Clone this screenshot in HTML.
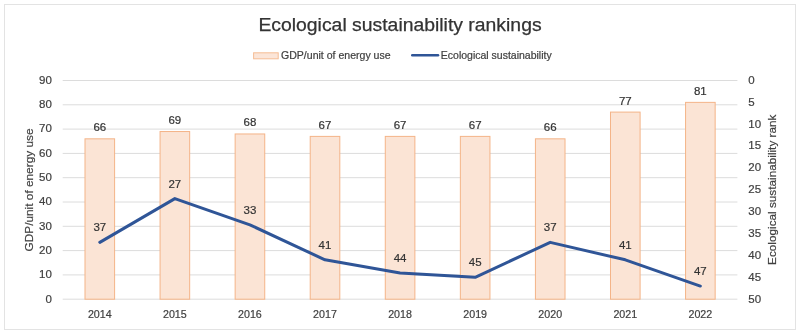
<!DOCTYPE html>
<html><head><meta charset="utf-8"><style>
html,body{margin:0;padding:0;background:#fff;width:800px;height:333px;overflow:hidden}
svg{display:block;will-change:transform}
text{font-family:"Liberation Sans", sans-serif;}
.ti{stroke:currentColor;stroke-width:0.25px}
.dl,.ax,.yr,.lt,.rt,.lg{stroke:currentColor;stroke-width:0.2px}
.dl{font-size:11.5px;color:#333;fill:currentColor}
.ax{font-size:11.5px;color:#404040;fill:currentColor}
.yr{font-size:11.0px;color:#404040;fill:currentColor}
.lt{font-size:11.8px;color:#404040;fill:currentColor}
.rt{font-size:11.8px;color:#404040;fill:currentColor}
.lg{font-size:10.2px;color:#404040;fill:currentColor}
.ti{font-size:18.3px;color:#333;fill:currentColor}
</style></head><body>
<svg width="800" height="333" viewBox="0 0 800 333">
<rect x="4.5" y="4.5" width="791" height="325" fill="#fff" stroke="#e3e3e3" stroke-width="1"/>
<line x1="62.7" y1="299.20" x2="737.4" y2="299.20" stroke="#dcdcdc" stroke-width="1"/>
<line x1="62.7" y1="274.90" x2="737.4" y2="274.90" stroke="#dcdcdc" stroke-width="1"/>
<line x1="62.7" y1="250.60" x2="737.4" y2="250.60" stroke="#dcdcdc" stroke-width="1"/>
<line x1="62.7" y1="226.30" x2="737.4" y2="226.30" stroke="#dcdcdc" stroke-width="1"/>
<line x1="62.7" y1="202.00" x2="737.4" y2="202.00" stroke="#dcdcdc" stroke-width="1"/>
<line x1="62.7" y1="177.70" x2="737.4" y2="177.70" stroke="#dcdcdc" stroke-width="1"/>
<line x1="62.7" y1="153.40" x2="737.4" y2="153.40" stroke="#dcdcdc" stroke-width="1"/>
<line x1="62.7" y1="129.10" x2="737.4" y2="129.10" stroke="#dcdcdc" stroke-width="1"/>
<line x1="62.7" y1="104.80" x2="737.4" y2="104.80" stroke="#dcdcdc" stroke-width="1"/>
<line x1="62.7" y1="80.50" x2="737.4" y2="80.50" stroke="#dcdcdc" stroke-width="1"/>
<rect x="85.00" y="138.82" width="29.6" height="160.38" fill="#fbe4d5" stroke="#f4b488" stroke-width="1"/>
<rect x="160.07" y="131.53" width="29.6" height="167.67" fill="#fbe4d5" stroke="#f4b488" stroke-width="1"/>
<rect x="235.14" y="133.96" width="29.6" height="165.24" fill="#fbe4d5" stroke="#f4b488" stroke-width="1"/>
<rect x="310.21" y="136.39" width="29.6" height="162.81" fill="#fbe4d5" stroke="#f4b488" stroke-width="1"/>
<rect x="385.28" y="136.39" width="29.6" height="162.81" fill="#fbe4d5" stroke="#f4b488" stroke-width="1"/>
<rect x="460.35" y="136.39" width="29.6" height="162.81" fill="#fbe4d5" stroke="#f4b488" stroke-width="1"/>
<rect x="535.42" y="138.82" width="29.6" height="160.38" fill="#fbe4d5" stroke="#f4b488" stroke-width="1"/>
<rect x="610.49" y="112.09" width="29.6" height="187.11" fill="#fbe4d5" stroke="#f4b488" stroke-width="1"/>
<rect x="685.56" y="102.37" width="29.6" height="196.83" fill="#fbe4d5" stroke="#f4b488" stroke-width="1"/>
<polyline points="99.80,242.34 174.87,198.60 249.94,224.84 325.01,259.83 400.08,272.96 475.15,277.33 550.22,242.34 625.29,259.83 700.36,286.08" fill="none" stroke="#2f5597" stroke-width="3" stroke-linejoin="round" stroke-linecap="round"/>
<text x="99.80" y="131.32" text-anchor="middle" class="dl">66</text>
<text x="174.87" y="124.03" text-anchor="middle" class="dl">69</text>
<text x="249.94" y="126.46" text-anchor="middle" class="dl">68</text>
<text x="325.01" y="128.89" text-anchor="middle" class="dl">67</text>
<text x="400.08" y="128.89" text-anchor="middle" class="dl">67</text>
<text x="475.15" y="128.89" text-anchor="middle" class="dl">67</text>
<text x="550.22" y="131.32" text-anchor="middle" class="dl">66</text>
<text x="625.29" y="104.59" text-anchor="middle" class="dl">77</text>
<text x="700.36" y="94.87" text-anchor="middle" class="dl">81</text>
<text x="99.80" y="231.34" text-anchor="middle" class="dl">37</text>
<text x="174.87" y="187.60" text-anchor="middle" class="dl">27</text>
<text x="249.94" y="213.84" text-anchor="middle" class="dl">33</text>
<text x="325.01" y="248.83" text-anchor="middle" class="dl">41</text>
<text x="400.08" y="261.96" text-anchor="middle" class="dl">44</text>
<text x="475.15" y="266.33" text-anchor="middle" class="dl">45</text>
<text x="550.22" y="231.34" text-anchor="middle" class="dl">37</text>
<text x="625.29" y="248.83" text-anchor="middle" class="dl">41</text>
<text x="700.36" y="275.08" text-anchor="middle" class="dl">47</text>
<text x="51.8" y="302.50" text-anchor="end" class="ax">0</text>
<text x="51.8" y="278.20" text-anchor="end" class="ax">10</text>
<text x="51.8" y="253.90" text-anchor="end" class="ax">20</text>
<text x="51.8" y="229.60" text-anchor="end" class="ax">30</text>
<text x="51.8" y="205.30" text-anchor="end" class="ax">40</text>
<text x="51.8" y="181.00" text-anchor="end" class="ax">50</text>
<text x="51.8" y="156.70" text-anchor="end" class="ax">60</text>
<text x="51.8" y="132.40" text-anchor="end" class="ax">70</text>
<text x="51.8" y="108.10" text-anchor="end" class="ax">80</text>
<text x="51.8" y="83.80" text-anchor="end" class="ax">90</text>
<text x="748.3" y="83.80" class="ax">0</text>
<text x="748.3" y="105.67" class="ax">5</text>
<text x="748.3" y="127.54" class="ax">10</text>
<text x="748.3" y="149.41" class="ax">15</text>
<text x="748.3" y="171.28" class="ax">20</text>
<text x="748.3" y="193.15" class="ax">25</text>
<text x="748.3" y="215.02" class="ax">30</text>
<text x="748.3" y="236.89" class="ax">35</text>
<text x="748.3" y="258.76" class="ax">40</text>
<text x="748.3" y="280.63" class="ax">45</text>
<text x="748.3" y="302.50" class="ax">50</text>
<text x="99.80" y="317.9" text-anchor="middle" class="yr" textLength="23.8" lengthAdjust="spacingAndGlyphs">2014</text>
<text x="174.87" y="317.9" text-anchor="middle" class="yr" textLength="23.8" lengthAdjust="spacingAndGlyphs">2015</text>
<text x="249.94" y="317.9" text-anchor="middle" class="yr" textLength="23.8" lengthAdjust="spacingAndGlyphs">2016</text>
<text x="325.01" y="317.9" text-anchor="middle" class="yr" textLength="23.8" lengthAdjust="spacingAndGlyphs">2017</text>
<text x="400.08" y="317.9" text-anchor="middle" class="yr" textLength="23.8" lengthAdjust="spacingAndGlyphs">2018</text>
<text x="475.15" y="317.9" text-anchor="middle" class="yr" textLength="23.8" lengthAdjust="spacingAndGlyphs">2019</text>
<text x="550.22" y="317.9" text-anchor="middle" class="yr" textLength="23.8" lengthAdjust="spacingAndGlyphs">2020</text>
<text x="625.29" y="317.9" text-anchor="middle" class="yr" textLength="23.8" lengthAdjust="spacingAndGlyphs">2021</text>
<text x="700.36" y="317.9" text-anchor="middle" class="yr" textLength="23.8" lengthAdjust="spacingAndGlyphs">2022</text>
<text transform="translate(33.0,190.0) rotate(-90)" text-anchor="middle" class="lt" textLength="123.0" lengthAdjust="spacingAndGlyphs">GDP/unit of energy use</text>
<text transform="translate(776.4,189.75) rotate(-90)" text-anchor="middle" class="rt" textLength="150.3" lengthAdjust="spacingAndGlyphs">Ecological sustainability rank</text>
<rect x="253.6" y="52.8" width="24.6" height="6" fill="#fbe5d8" stroke="#f5bd95" stroke-width="1"/>
<text x="281" y="58.9" class="lg" textLength="109.6" lengthAdjust="spacingAndGlyphs">GDP/unit of energy use</text>
<line x1="412.3" y1="55.3" x2="438" y2="55.3" stroke="#2f5597" stroke-width="2.6" stroke-linecap="round"/>
<text x="440.8" y="58.9" class="lg" textLength="110.9" lengthAdjust="spacingAndGlyphs">Ecological sustainability</text>
<text x="258.4" y="30.5" class="ti" textLength="283.2" lengthAdjust="spacingAndGlyphs">Ecological sustainability rankings</text>
</svg>
</body></html>
